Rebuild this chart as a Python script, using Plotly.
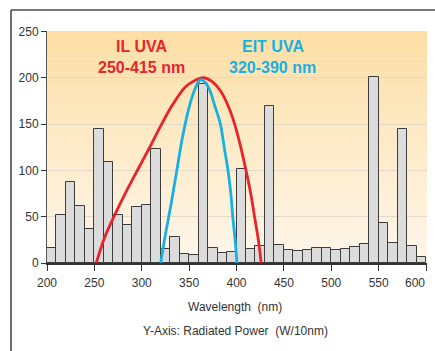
import plotly.graph_objects as go

# ---- data ----
bin_starts = list(range(200, 600, 10))
bin_values = [16, 52, 87, 62, 37, 145, 109, 52, 41, 61,
              63, 123, 15, 28, 10, 9, 193, 16, 11, 12,
              101, 15, 18, 169, 19, 14, 13, 14, 16, 16,
              14, 15, 17, 21, 201, 43, 22, 145, 18, 7]

il_x = [252, 261, 272, 285, 298, 310, 320, 332, 346, 356, 365, 374, 383, 391, 398, 404, 410, 415, 419, 423, 426]
il_y = [0, 28, 53, 80, 105, 128, 148, 170, 190, 197, 200, 196, 186, 170, 150, 127, 100, 75, 50, 25, 0]

eit_x = [320, 324.5, 331, 337, 343, 351, 357, 362, 367, 372, 377, 383, 387, 391, 394, 396, 398.5, 400.5]
eit_y = [0, 28, 64, 100, 136, 172, 190, 198, 195, 186, 170, 150, 125, 100, 75, 50, 25, 0]

x_ticks = [200, 250, 300, 350, 400, 450, 500, 550, 600]
x_tick_text = ["200", "250", "300", "350", "400", "450", "500", "550", ""]
last_x_label = "600"
y_ticks = [0, 50, 100, 150, 200, 250]

FONT = "Liberation Sans, Arial, Helvetica, sans-serif"
RED = "#e8232b"
BLUE = "#17b0e3"
TXT = "#333333"

bar_centers = [s + 5 for s in bin_starts]

fig = go.Figure()
fig.add_trace(go.Bar(
    x=bar_centers, y=bin_values, width=10,
    marker=dict(color="#dcdcdc", line=dict(color="#3c3c3c", width=1)),
    showlegend=False, hoverinfo="x+y"))
fig.add_trace(go.Scatter(
    x=il_x, y=il_y, mode="lines", line=dict(color=RED, width=2.8, shape="spline", smoothing=1),
    showlegend=False))
fig.add_trace(go.Scatter(
    x=eit_x, y=eit_y, mode="lines", line=dict(color=BLUE, width=2.8, shape="spline", smoothing=1),
    showlegend=False))

# gradient background strips
shapes = []
top = (253, 222, 164)
bot = (254, 247, 236)
n = 50
for i in range(n):
    t = i / (n - 1)
    c = tuple(round(bot[k] + (top[k] - bot[k]) * t) for k in range(3))
    shapes.append(dict(type="rect", xref="paper", yref="paper",
                       x0=0, x1=1, y0=i / n, y1=(i + 1) / n,
                       fillcolor="rgb(%d,%d,%d)" % c, line=dict(width=0), layer="below"))

# paper coords relative to plot area 47..427 x, 31..263 y
def px(xp):
    return (xp - 47) / 380.0

def py(yp):
    return (263 - yp) / 232.0

shapes.append(dict(type="line", xref="paper", yref="paper", x0=px(11), x1=px(436), y0=py(10), y1=py(10),
                   line=dict(color="#4a4a4a", width=1.6)))
shapes.append(dict(type="line", xref="paper", yref="paper", x0=px(11), x1=px(11), y0=py(10), y1=py(352),
                   line=dict(color="#4a4a4a", width=1.6)))

hfont_red = dict(family=FONT, size=16, color=RED)
hfont_blue = dict(family=FONT, size=16, color=BLUE)
annotations = [
    dict(x=300, y=234, xref="x", yref="y", text="<b>IL UVA</b>", showarrow=False, font=hfont_red,
         xanchor="center", yanchor="middle"),
    dict(x=300, y=211, xref="x", yref="y", text="<b>250-415 nm</b>", showarrow=False, font=hfont_red,
         xanchor="center", yanchor="middle"),
    dict(x=438, y=234, xref="x", yref="y", text="<b>EIT UVA</b>", showarrow=False, font=hfont_blue,
         xanchor="center", yanchor="middle"),
    dict(x=438, y=211, xref="x", yref="y", text="<b>320-390 nm</b>", showarrow=False, font=hfont_blue,
         xanchor="center", yanchor="middle"),
    dict(x=px(235), y=py(331), xref="paper", yref="paper", text="Y-Axis: Radiated Power  (W/10nm)",
         showarrow=False, font=dict(family=FONT, size=12, color=TXT), xanchor="center", yanchor="middle"),
    dict(x=px(235), y=py(307), xref="paper", yref="paper", text="Wavelength  (nm)",
         showarrow=False, font=dict(family=FONT, size=12, color=TXT), xanchor="center", yanchor="middle"),
    dict(x=px(427), y=py(283), xref="paper", yref="paper", text=last_x_label,
         showarrow=False, font=dict(family=FONT, size=12, color=TXT), xanchor="right", yanchor="middle"),
]

fig.update_layout(
    width=435, height=351,
    margin=dict(l=47, r=8, t=31, b=88),
    paper_bgcolor="white", plot_bgcolor="#fdf0d4",
    bargap=0, shapes=shapes, annotations=annotations,
    font=dict(family=FONT, size=12, color=TXT),
)
fig.update_xaxes(range=[200, 601], tickvals=x_ticks, ticktext=x_tick_text,
                 ticks="outside", ticklen=6, tickcolor="#333", ticklabelstandoff=2,
                 showgrid=False, zeroline=False, showline=True, linecolor="#333", linewidth=1.5,
                 tickfont=dict(family=FONT, size=12, color=TXT))
fig.update_yaxes(range=[0, 250.5], tickvals=y_ticks, ticks="outside", ticklen=5, tickcolor="#333",
                 showgrid=True, gridcolor="#e2d9c8", gridwidth=1, zeroline=False,
                 showline=True, linecolor="#555", linewidth=1,
                 tickfont=dict(family=FONT, size=12, color=TXT))

fig.write_html("out.html")
